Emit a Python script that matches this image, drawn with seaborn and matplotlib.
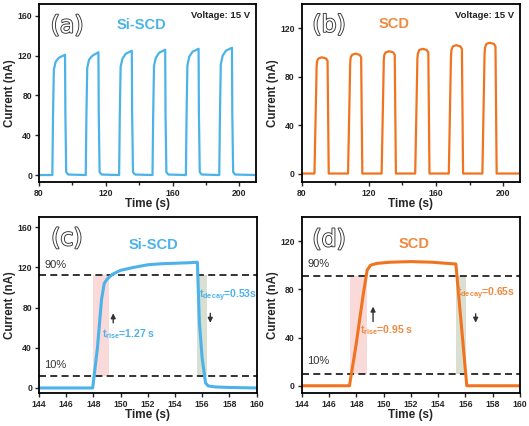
import numpy as np
import pandas as pd
import seaborn as sns
import matplotlib.pyplot as plt
import matplotlib.patheffects as pe
from matplotlib.ticker import AutoMinorLocator

# ---- data ----
# (a) Si-SCD pulse train
t_a = [80,
       88.0, 88.4, 88.9, 90.0, 92.0, 95.6, 95.8, 96.3, 97.5,
       108.0, 108.4, 108.9, 110.0, 112.0, 115.6, 115.8, 116.3, 117.5,
       128.0, 128.4, 128.9, 130.0, 132.0, 135.6, 135.8, 136.3, 137.5,
       148.0, 148.4, 148.9, 150.0, 152.0, 155.6, 155.8, 156.3, 157.5,
       168.0, 168.4, 168.9, 170.0, 172.0, 175.6, 175.8, 176.3, 177.5,
       188.0, 188.4, 188.9, 190.0, 192.0, 195.6, 195.8, 196.3, 197.5,
       210]
i_a = [0,
       0, 60, 106, 114, 118, 121, 62, 3, 0.5,
       0, 60, 108, 116, 120, 123.5, 62, 3, 0.5,
       0, 60, 109, 117, 122, 125, 62, 3, 0.5,
       0, 60, 110, 118, 123, 126, 62, 3, 0.5,
       0, 60, 110, 119, 124, 127, 62, 3, 0.5,
       0, 60, 111, 120, 125, 128, 62, 3, 0.5,
       0]

# (b) SCD pulse train
t_b = [80,
       87.6, 88.9, 89.2, 90.0, 92.0, 94.5, 95.4, 96.1,
       107.6, 108.9, 109.2, 110.0, 112.0, 114.5, 115.4, 116.1,
       127.6, 128.9, 129.2, 130.0, 132.0, 134.5, 135.4, 136.1,
       147.6, 148.9, 149.2, 150.0, 152.0, 154.5, 155.4, 156.1,
       167.6, 168.9, 169.2, 170.0, 172.0, 174.5, 175.4, 176.1,
       187.6, 188.9, 189.2, 190.0, 192.0, 194.5, 195.4, 196.1,
       210]
i_b = [0,
       0, 89, 93, 95, 96, 95, 93, 0,
       0, 92, 96, 98, 99, 98, 96, 0,
       0, 94, 98, 100, 101, 100, 98, 0,
       0, 95, 99, 102, 103, 102, 100, 0,
       0, 97, 102, 105, 106, 105, 103, 0,
       0, 99, 104, 107, 108, 107, 105, 0,
       0]

# (c) Si-SCD single pulse
t_c = [144, 147.95, 148.3, 148.6, 148.8, 149.0, 149.4, 150.0, 151.0, 152.0,
       153.0, 154.0, 155.0, 155.65, 155.8, 156.0, 156.25, 156.45, 157.0, 158.0, 160.0]
i_c = [0, 0, 40, 88, 104, 108, 113, 117, 120, 122.5,
       123.5, 124, 124.5, 125, 65, 30, 5, 2, 1, 0.5, 0]

# (d) SCD single pulse
t_d = [144, 147.5, 148.0, 148.5, 148.8, 149.05, 149.5, 150.5, 152.0, 153.5,
       155.3, 156.1, 160.0]
i_d = [0, 0, 35, 75, 96, 100, 101.5, 102.5, 103, 102.5,
       101, 0, 0]

# 10 % / 90 % levels and rise/decay windows
lev_c = [11.6, 112.6]
lev_d = [9.6, 91.1]
rise_c, decay_c = (147.94, 149.17), (155.6, 156.37)
rise_d, decay_d = (147.54, 148.76), (155.28, 156.02)

blue = '#4BB3EA'
orange = '#F07420'
orange_txt = '#F0893E'

sns.set_style('ticks')
plt.rcParams['font.family'] = ['Liberation Sans', 'DejaVu Sans']
plt.rcParams['mathtext.fontset'] = 'custom'
plt.rcParams['mathtext.rm'] = 'Liberation Sans:bold'
plt.rcParams['mathtext.it'] = 'Liberation Sans:bold'
plt.rcParams['mathtext.bf'] = 'Liberation Sans:bold'

fig = plt.figure(figsize=(5.29, 4.26), dpi=100)
W, H = 529, 426


def add_ax(l, r, t, b):
    return fig.add_axes([l / W, 1 - b / H, (r - l) / W, (b - t) / H])


ax_a = add_ax(39, 256, 4, 182)
ax_b = add_ax(301.7, 520, 4, 182)
ax_c = add_ax(39, 256.5, 217, 393)
ax_d = add_ax(301.7, 520, 217, 393)


def style(ax, xlim, ylim, xt, yt, minor=False):
    ax.set_xlim(*xlim)
    ax.set_ylim(*ylim)
    ax.set_xticks(xt)
    ax.set_yticks(yt)
    if minor:
        ax.xaxis.set_minor_locator(AutoMinorLocator(2))
    for s in ax.spines.values():
        s.set_visible(True)
        s.set_linewidth(1.3)
        s.set_color('black')
    ax.tick_params(direction='out', length=3, width=1, labelsize=6.2, pad=2)
    ax.tick_params(which='minor', direction='out', length=2, width=1)
    for lab in ax.get_xticklabels() + ax.get_yticklabels():
        lab.set_fontweight('bold')
    ax.set_xlabel('Time (s)', fontsize=8.5, fontweight='bold', labelpad=0)
    ax.set_ylabel('Current (nA)', fontsize=8.3, fontweight='bold', labelpad=1)


def tag(ax, s, x, y):
    ax.text(x, y, s, transform=ax.transAxes, ha='center', va='center',
            fontsize=17, color='white', family='DejaVu Sans',
            path_effects=[pe.withStroke(linewidth=1.3, foreground='#333333')])


sns.lineplot(x=t_a, y=i_a, ax=ax_a, color=blue, lw=1.6, estimator=None)
sns.lineplot(x=t_b, y=i_b, ax=ax_b, color=orange, lw=1.6, estimator=None)
sns.lineplot(x=t_c, y=i_c, ax=ax_c, color=blue, lw=2.2, estimator=None)
sns.lineplot(x=t_d, y=i_d, ax=ax_d, color=orange, lw=2.2, estimator=None)

style(ax_a, (80, 210), (-7, 172), [80, 120, 160, 200], [0, 40, 80, 120, 160], minor=True)
style(ax_b, (80, 210), (-7, 140), [80, 120, 160, 200], [0, 40, 80, 120], minor=True)
style(ax_c, (144, 160), (-5, 170), range(144, 161, 2), [0, 40, 80, 120, 160])
style(ax_d, (144, 160), (-6, 140), range(144, 161, 2), [0, 40, 80, 120])

tag(ax_a, '(a)', 0.129, 0.879)
tag(ax_b, '(b)', 0.125, 0.883)
tag(ax_c, '(c)', 0.128, 0.879)
tag(ax_d, '(d)', 0.125, 0.873)

ax_a.text(0.473, 0.883, 'Si-SCD', transform=ax_a.transAxes, ha='center', va='center',
          fontsize=10.5, fontweight='bold', color=blue)
ax_b.text(0.423, 0.888, 'SCD', transform=ax_b.transAxes, ha='center', va='center',
          fontsize=10.5, fontweight='bold', color=orange_txt)
ax_c.text(0.526, 0.84, 'Si-SCD', transform=ax_c.transAxes, ha='center', va='center',
          fontsize=10.5, fontweight='bold', color=blue)
ax_d.text(0.514, 0.846, 'SCD', transform=ax_d.transAxes, ha='center', va='center',
          fontsize=10.5, fontweight='bold', color=orange_txt)
for ax in (ax_a, ax_b):
    ax.text(0.975, 0.937, 'Voltage: 15 V', transform=ax.transAxes, ha='right',
            va='center', fontsize=6.8, fontweight='bold', color='#222222')

# detail panels: thresholds, windows, arrows, labels
for ax, lev, rise, decay in [(ax_c, lev_c, rise_c, decay_c),
                             (ax_d, lev_d, rise_d, decay_d)]:
    for y in lev:
        ax.axhline(y, color='#333333', lw=1.4, dashes=(3.6, 2.2), zorder=1)
    ax.fill_between(rise, lev[0], lev[1], color='#F9D0D0', alpha=0.8, lw=0, zorder=0)
    ax.fill_between(decay, lev[0], lev[1], color='#D5DDCC', alpha=0.9, lw=0, zorder=0)
    ax.text(144.4, lev[1] + 10, '90%', fontsize=8, color='#333333', va='center')
    ax.text(144.4, lev[0] + 11, '10%', fontsize=8, color='#333333', va='center')

arrow = dict(arrowstyle='-|>', color='#333333', lw=1, mutation_scale=7)
ax_c.annotate('', xy=(149.46, 77), xytext=(149.46, 62), arrowprops=arrow)
ax_c.annotate('', xy=(156.6, 62), xytext=(156.6, 77), arrowprops=arrow)
ax_d.annotate('', xy=(149.23, 68), xytext=(149.23, 51), arrowprops=arrow)
ax_d.annotate('', xy=(156.75, 50), xytext=(156.75, 62), arrowprops=arrow)

ax_c.text(148.6, 54, r'$\mathregular{t_{rise}}$=1.27 s', fontsize=7.5,
          fontweight='bold', color=blue, va='center')
ax_c.text(155.75, 92, r'$\mathregular{t_{decay}}$=0.53s', fontsize=7.5,
          fontweight='bold', color=blue, va='center')
ax_d.text(148.3, 46, r'$\mathregular{t_{rise}}$=0.95 s', fontsize=7.5,
          fontweight='bold', color=orange_txt, va='center')
ax_d.text(155.4, 76, r'$\mathregular{t_{decay}}$=0.65s', fontsize=7.5,
          fontweight='bold', color=orange_txt, va='center')

fig.savefig('out.png', dpi=100)
